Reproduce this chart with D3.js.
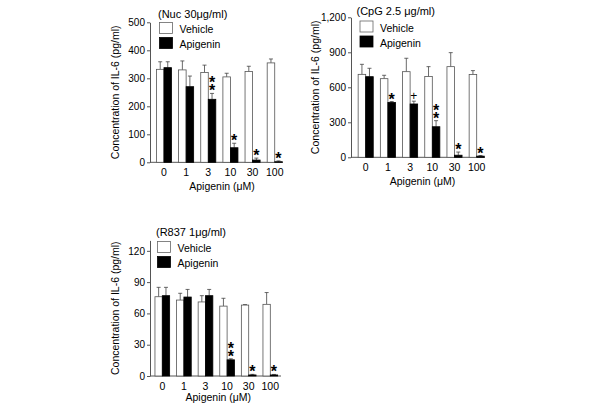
<!DOCTYPE html>
<html>
<head>
<meta charset="utf-8">
<script src="https://cdn.jsdelivr.net/npm/d3@7"></script>
<style>
  body { margin: 0; background: #fff; }
  svg { font-family: "Liberation Sans", Arial, sans-serif; }
</style>
</head>
<body>
<svg width="600" height="410"></svg>
<script>
var doses = ["0", "1", "3", "10", "30", "100"];
var seriesNames = ["Vehicle", "Apigenin"];

// Nuc 30 ug/ml
var nucVehicle = [332, 330, 321, 305, 324, 355],
    nucVehicleErr = [27, 32, 26, 13, 19, 14],
    nucApigenin = [338, 270, 225, 52, 8, 2],
    nucApigeninErr = [21, 38, 21, 16, 7, 3],
    nucSig = ["", "", "**", "*", "*", "*"];

// CpG 2.5 ug/ml
var cpgVehicle = [711, 674, 734, 692, 777, 709],
    cpgVehicleErr = [86, 29, 115, 85, 120, 34],
    cpgApigenin = [691, 470, 457, 262, 18, 10],
    cpgApigeninErr = [72, 8, 24, 52, 27, 5],
    cpgSig = ["", "*", "+", "**", "*", "*"];

// R837 1 ug/ml
var r837Vehicle = [76, 72.8, 71, 67, 68, 68.7],
    r837VehicleErr = [9, 6.5, 6, 7.5, 0.5, 11.3],
    r837Apigenin = [77, 75.7, 77, 15.5, 1, 1],
    r837ApigeninErr = [8, 7.3, 6, 1, 0.6, 0.5],
    r837Sig = ["", "", "", "**", "*", "*"];

var svg = d3.select("svg");

function drawPanel(p) {
  var g = svg.append("g");

  var y = d3.scaleLinear().domain(p.yDomain).range([p.y0, p.y1]);
  var x = d3.scaleBand().domain(doses).range(p.band).paddingInner(0.32).paddingOuter(0.16);
  var xs = d3.scaleBand().domain(seriesNames).range([0, x.bandwidth()]);

  // y axis
  var yAxis = d3.axisLeft(y).tickValues(p.ticks).tickSize(3).tickPadding(2).tickSizeOuter(0);
  var ya = g.append("g").attr("transform", "translate(" + p.axisX + ",0)").call(yAxis);
  ya.selectAll("text").attr("font-size", 10).attr("font-family", null).attr("fill", "#000");
  ya.selectAll("line").attr("stroke", "#555");
  ya.select(".domain").attr("stroke", "#555");

  // x axis (no ticks)
  var xa = g.append("g").attr("transform", "translate(0," + p.y0 + ")")
      .call(d3.axisBottom(x).tickSize(0).tickPadding(6.5));
  xa.select(".domain").remove();
  xa.selectAll("text").attr("font-size", 10.5).attr("font-family", null).attr("fill", "#000");
  g.append("line")
      .attr("x1", p.axisX).attr("x2", p.axisEnd)
      .attr("y1", p.y0).attr("y2", p.y0)
      .attr("stroke", "#555");

  var series = [
    {name: "Vehicle", vals: p.vehicle, errs: p.vehicleErr, fill: "#fff"},
    {name: "Apigenin", vals: p.apigenin, errs: p.apigeninErr, fill: "#000"}
  ];

  series.forEach(function(s) {
    var sg = g.append("g");
    var data = doses.map(function(d, i) { return {dose: d, v: s.vals[i], e: s.errs[i]}; });
    // error bars, upward only
    sg.selectAll(".err").data(data).enter().append("path")
        .attr("fill", "none").attr("stroke", "#444").attr("stroke-width", 0.8)
        .attr("d", function(d) {
          var cx = x(d.dose) + xs(s.name) + xs.bandwidth() / 2;
          var top = y(d.v + d.e);
          return "M" + cx + "," + y(d.v) + "V" + top + "M" + (cx - 2) + "," + top + "H" + (cx + 2);
        });
    sg.selectAll("rect").data(data).enter().append("rect")
        .attr("x", function(d) { return x(d.dose) + xs(s.name); })
        .attr("width", xs.bandwidth())
        .attr("y", function(d) { return y(d.v); })
        .attr("height", function(d) { return p.y0 - y(d.v); })
        .attr("fill", s.fill)
        .attr("stroke", s.name == "Vehicle" ? "#555" : "#000")
        .attr("stroke-width", 0.8);
  });

  // significance marks above apigenin bars
  doses.forEach(function(d, i) {
    var mark = p.sig[i];
    if (!mark) return;
    var cx = x(d) + xs("Apigenin") + xs.bandwidth() / 2;
    var top = y(p.apigenin[i] + p.apigeninErr[i]) - 5;
    if (mark == "+") {
      g.append("text").attr("x", cx).attr("y", top + 4).attr("text-anchor", "middle")
          .attr("font-size", 12).text("+");
      return;
    }
    // stacked stars in one text element
    var t = g.append("text")
        .attr("text-anchor", "middle")
        .attr("font-size", 16)
        .attr("font-weight", "bold");
    for (var k = 0; k < mark.length; k++) {
      t.append("tspan")
          .attr("x", cx).attr("y", top - k * 8 + 8)
          .text("*");
    }
  });

  // title
  g.append("text").attr("x", p.title[0]).attr("y", p.title[1])
      .attr("font-size", 11).text(p.titleText);

  // legend
  seriesNames.forEach(function(n, i) {
    var ly = p.legend[1] + i * 15;
    g.append("rect").attr("x", p.legend[0]).attr("y", ly)
        .attr("width", 13).attr("height", 11)
        .attr("fill", i == 0 ? "#fff" : "#000")
        .attr("stroke", i == 0 ? "#666" : "#000").attr("stroke-width", 0.8);
    g.append("text").attr("x", p.legend[0] + 20).attr("y", ly + 10.5)
        .attr("font-size", 10.5).text(n);
  });

  // axis labels
  g.append("text")
      .attr("transform", "translate(" + p.yLabelX + "," + ((p.y0 + p.y1) / 2) + ") rotate(-90)")
      .attr("text-anchor", "middle").attr("font-size", 10.5)
      .text("Concentration of IL-6 (pg/ml)");
  g.append("text").attr("x", p.xLabel[0]).attr("y", p.xLabel[1])
      .attr("text-anchor", "middle").attr("font-size", 10.5)
      .text("Apigenin (\u03bcM)");
}

drawPanel({
  titleText: "(Nuc 30\u03bcg/ml)",
  vehicle: nucVehicle, vehicleErr: nucVehicleErr,
  apigenin: nucApigenin, apigeninErr: nucApigeninErr, sig: nucSig,
  yDomain: [0, 500], ticks: [0, 100, 200, 300, 400, 500],
  y0: 162.3, y1: 22.3, axisX: 150, axisEnd: 283, band: [152.9, 285.8],
  title: [158, 18], legend: [159.5, 22.5], yLabelX: 118.5, xLabel: [222, 190]
});

drawPanel({
  titleText: "(CpG 2.5 \u03bcg/ml)",
  vehicle: cpgVehicle, vehicleErr: cpgVehicleErr,
  apigenin: cpgApigenin, apigeninErr: cpgApigeninErr, sig: cpgSig,
  yDomain: [0, 1200], ticks: [0, 300, 600, 900, 1200],
  y0: 157.3, y1: 17.3, axisX: 351, axisEnd: 485, band: [354.6, 487.8],
  title: [356.5, 14.5], legend: [360, 21], yLabelX: 318.5, xLabel: [422.5, 184.5]
});

drawPanel({
  titleText: "(R837 1\u03bcg/ml)",
  vehicle: r837Vehicle, vehicleErr: r837VehicleErr,
  apigenin: r837Apigenin, apigeninErr: r837ApigeninErr, sig: r837Sig,
  yDomain: [0, 130], ticks: [0, 30, 60, 90, 120],
  y0: 376, y1: 240.4, axisX: 150, axisEnd: 281, band: [151.5, 281.1],
  title: [156, 236], legend: [157.5, 241.5], yLabelX: 118.5, xLabel: [218.3, 401]
});
</script>
</body>
</html>
